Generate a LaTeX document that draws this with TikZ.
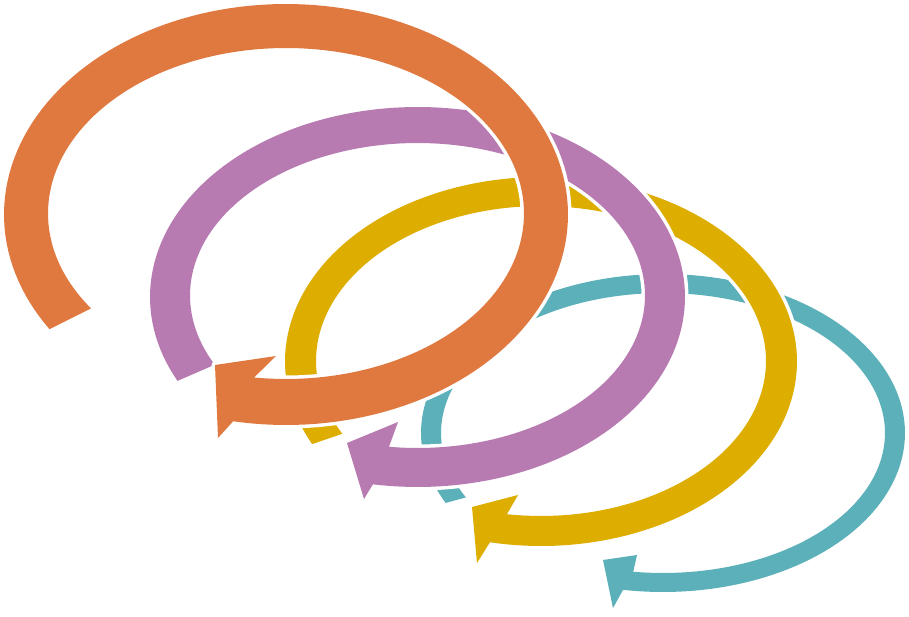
\documentclass[tikz,border=0pt]{standalone}
\usepackage{tikz}
\definecolor{loopteal}{RGB}{91,176,185}
\definecolor{loopyellow}{RGB}{221,174,0}
\definecolor{looppurple}{RGB}{183,123,178}
\definecolor{looporange}{RGB}{224,121,63}

\begin{document}
\begin{tikzpicture}[x=1pt,y=-1pt,
  loopband/.style={fill=#1,preaction={draw=white,line width=7pt,line join=round}}]
 \useasboundingbox (0,0) rectangle (909,617);
 \path[loopband=loopteal] plot[domain=153.9:459.5,samples=150] ({663+242*cos(\x)},{433+159*sin(\x)})
   -- (613,608) -- (603,560) -- (637,555)
   -- plot[domain=457.7:152.6,samples=150] ({663+222*cos(\x)},{433+140*sin(\x)}) -- cycle;
 \path[loopband=loopyellow] plot[domain=153.4:461.5,samples=150] ({541+256*cos(\x)},{361.5+184.5*sin(\x)})
   -- (477,563) -- (472,507) -- (518,495)
   -- plot[domain=458.7:152,samples=150] ({541+225*cos(\x)},{361+155*sin(\x)}) -- cycle;
 \path[loopband=looppurple] plot[domain=153.8:459.6,samples=150] ({417.5+267.5*cos(\x)},{297+190*sin(\x)})
   -- (364,499) -- (347,443) -- (398,422)
   -- plot[domain=457.2:153,samples=150] ({417.5+227.5*cos(\x)},{295.5+152.5*sin(\x)}) -- cycle;
 \path[loopband=looporange] plot[domain=147:460.8,samples=150] ({286+282*cos(\x)},{214.5+210.5*sin(\x)})
   -- (218,438) -- (215,365) -- (276,356)
   -- plot[domain=457.7:145,samples=150] ({286+238*cos(\x)},{213.5+165.5*sin(\x)}) -- cycle;
\end{tikzpicture}
\end{document}
